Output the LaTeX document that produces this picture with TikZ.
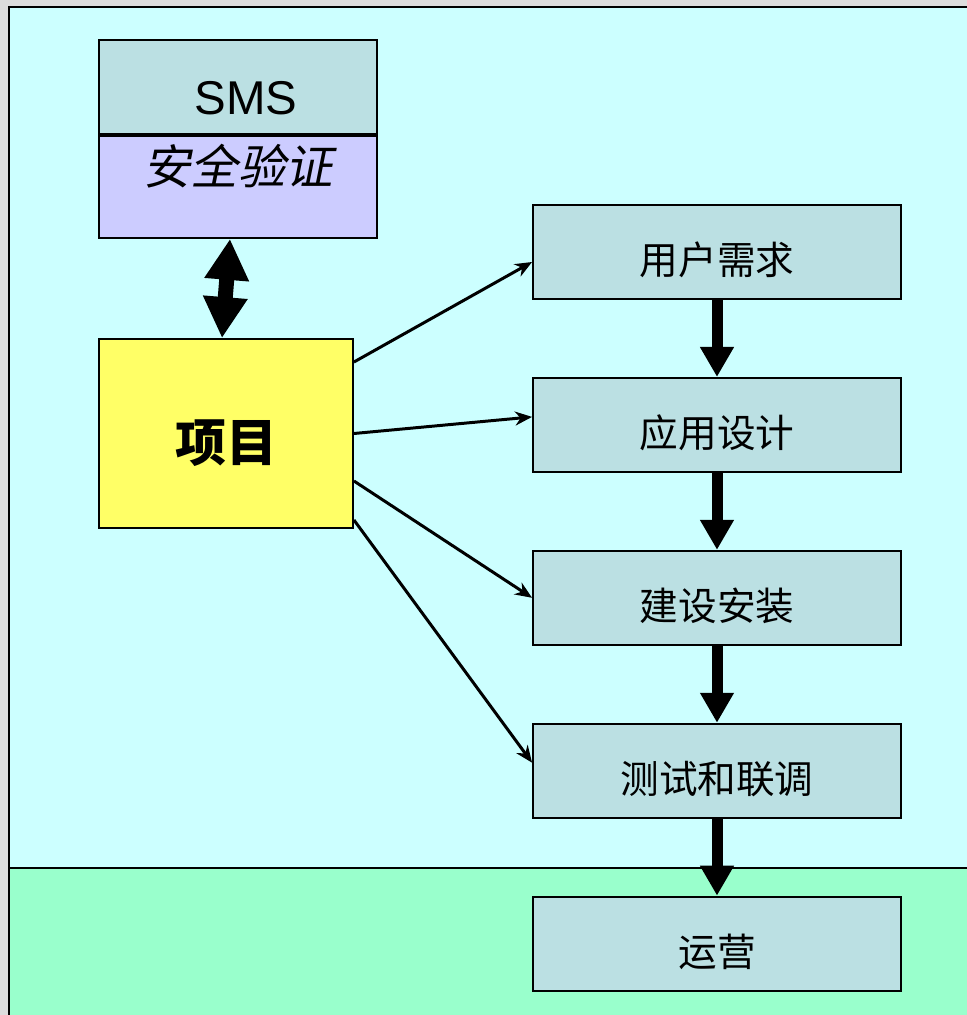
\documentclass[tikz,border=0pt]{standalone}
\usepackage{fontspec}
\setmainfont{Liberation Sans}
\newfontfamily\cjk{Noto Sans CJK SC}
\newfontfamily\cjkslant[FakeSlant=0.2]{Noto Sans CJK SC}
\usetikzlibrary{arrows.meta,positioning}
\definecolor{panelcyan}{HTML}{CCFFFF}
\definecolor{panelgreen}{HTML}{99FFCC}
\definecolor{boxteal}{HTML}{BBE0E3}
\definecolor{boxlav}{HTML}{CCCCFF}
\definecolor{boxyellow}{HTML}{FFFF66}
\definecolor{bggray}{HTML}{DDDDDD}
\newcommand\movetext[2]{\raisebox{#1}[\height][\depth]{#2}}

\begin{document}
\begin{tikzpicture}[x=0.02cm,y=-0.02cm,line width=1.1pt,node distance=1.54cm,
  box/.style={draw,fill=boxteal,minimum width=7.36cm,minimum height=1.88cm,
    font=\cjk\fontsize{22}{26}\selectfont},
  flow/.style={line width=1.7pt,-{Stealth[length=0.34cm,width=0.28cm]}},
  down/.style={line width=0.22cm,-{Triangle[length=0.6cm,width=0.64cm]}},
  both/.style={line width=0.3cm,{Triangle[length=0.82cm,width=0.84cm]}-{Triangle[length=0.82cm,width=0.84cm]}}]
  \useasboundingbox (0,0) rectangle (967,1015);
  % background panels
  \fill[bggray] (0,0) rectangle (967,1015);
  \draw[fill=panelcyan] (9,7) rectangle (990,868);
  \draw[fill=panelgreen] (9,868) rectangle (990,1040);

  % left side
  \node[draw,fill=boxteal,minimum width=5.56cm,minimum height=1.88cm,
    font=\fontsize{27}{32}\selectfont] (sms) at (238,87) {\hspace*{0.32cm}\movetext{-0.22cm}{SMS}};
  \node[draw,fill=boxlav,minimum width=5.56cm,minimum height=2.04cm,below=0pt of sms,
    font=\cjkslant\fontsize{27}{32}\selectfont] (auth) {\movetext{0.42cm}{安全验证}};
  \node[draw,fill=boxyellow,minimum width=5.08cm,minimum height=3.78cm,
    font=\cjk\bfseries\fontsize{29}{34}\selectfont] (proj) at (226,433.5) {\movetext{-0.2cm}{项目}};

  % right column
  \node[box] (req) at (717,252) {\movetext{-0.16cm}{用户需求}};
  \node[box,below=of req] (design) {\movetext{-0.16cm}{应用设计}};
  \node[box,below=of design] (build) {\movetext{-0.16cm}{建设安装}};
  \node[box,below=of build] (test) {\movetext{-0.16cm}{测试和联调}};
  \node[box,below=of test] (ops) {\movetext{-0.16cm}{运营}};

  \draw[both] ([xshift=-0.16cm]auth.south) -- ([xshift=-0.08cm]proj.north);
  \foreach \a/\b in {req/design,design/build,build/test,test/ops}
    \draw[down] (\a) -- (\b);

  \draw[flow] ([yshift=1.43cm]proj.east) -- ([yshift=-0.2cm]req.west);
  \draw[flow] (proj.east) -- ([yshift=0.16cm]design.west);
  \draw[flow] ([yshift=-0.95cm]proj.east) -- (build.west);
  \draw[flow] ([yshift=-1.73cm]proj.east) -- ([yshift=0.16cm]test.west);
\end{tikzpicture}
\end{document}
